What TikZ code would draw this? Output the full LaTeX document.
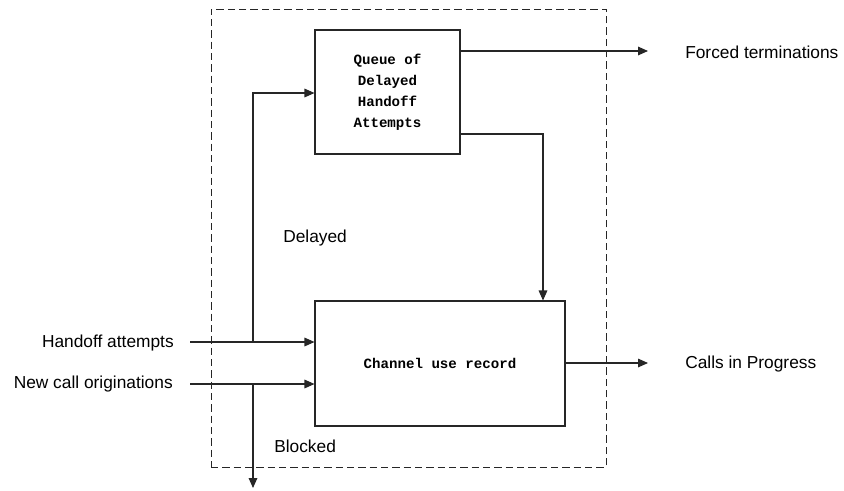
\documentclass[tikz,border=0pt]{standalone}
\usepackage{fontspec}
\setmainfont{Liberation Sans}
\newfontfamily\boxmono{Liberation Mono}
\usetikzlibrary{arrows.meta}
\begin{document}
\begin{tikzpicture}[x=0.75pt,y=-0.75pt,
  line/.style={line width=0.8pt, draw=black!85},
  arr/.style={line, -{Triangle[length=7.5pt,width=6.5pt]}},
  blk/.style={draw=black!85, line width=0.8pt, inner sep=0pt, align=center,
    font=\boxmono\bfseries\fontsize{10.6}{15.75}\selectfont},
  lbl/.style={inner sep=0pt, font=\fontsize{13}{15}\selectfont}]
\useasboundingbox (0,0) rectangle (844,490);
% system boundary
\node[draw=black!85, line width=0.75pt, dash pattern=on 5.5pt off 3pt,
  minimum width=296.25pt, minimum height=343.5pt, inner sep=0pt] (sys) at (408.5,238) {};
% blocks
\node[blk, minimum width=108.75pt, minimum height=93pt] (q) at (387.5,92)
  {Queue of\\Delayed\\Handoff\\Attempts};
\node[blk, minimum width=187.5pt, minimum height=93.75pt] (ch) at (440,363.5)
  {Channel use record};
% labels
\node[lbl, anchor=east] (hl) at (174,343) {Handoff attempts};
\node[lbl, anchor=east] (nl) at (173,384) {New call originations};
\node[lbl, anchor=west] (fl) at (685,52) {Forced terminations};
\node[lbl, anchor=west] (cl) at (685,364) {Calls in Progress};
\node[lbl, anchor=west] (dl) at (283,238) {Delayed};
\node[lbl, anchor=west] (bl) at (274,446) {Blocked};
% coordinates
\coordinate (hs) at (190,342);
\coordinate (ns) at (190,384);
\coordinate (j1) at (253,342);
\coordinate (j2) at (253,384);
\coordinate (bo) at (253,488);
\coordinate (fo) at (648,51);
\coordinate (co) at (648,363);
% connectors
\draw[arr] (hs) -- (ch.west |- hs);
\draw[arr] (ns) -- (ch.west |- ns);
\draw[arr] (j1) |- (q.west |- 0,93);
\draw[arr] (j2) -- (bo);
\draw[arr] (q.east |- fo) -- (fo);
\draw[arr] (q.east |- 0,134) -| (ch.north -| 543,0);
\draw[arr] (ch.east |- co) -- (co);
\end{tikzpicture}
\end{document}
